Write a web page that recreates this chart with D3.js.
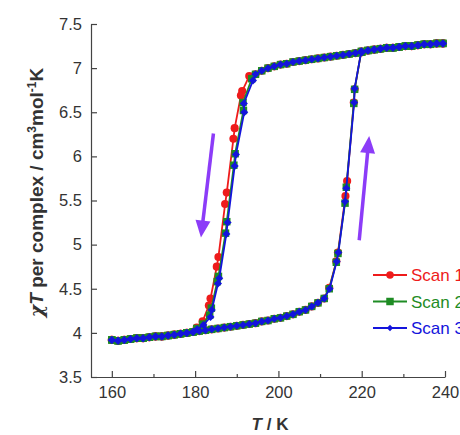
<!DOCTYPE html>
<html>
<head>
<meta charset="utf-8">
<script src="https://cdn.jsdelivr.net/npm/d3@7"></script>
<style>
  html, body { margin: 0; padding: 0; background: #fff; }
  svg { display: block; font-family: Arial, "Liberation Sans", sans-serif; }
</style>
</head>
<body>
<svg id="chart" width="460" height="435"></svg>
<script>
// Shared plateaus of the χT(T) hysteresis loop, [T / K, χT / cm3 mol-1 K]
const lowPlateau = [
  [160.0, 3.92], [161.5, 3.91], [163.0, 3.92], [164.5, 3.93], [166.0, 3.94],
  [167.5, 3.94], [169.0, 3.95], [170.5, 3.96], [172.0, 3.96], [173.5, 3.97],
  [175.0, 3.98], [176.5, 3.99], [178.0, 4.00], [179.5, 4.01], [181.0, 4.02],
  [182.5, 4.03], [184.0, 4.04], [185.5, 4.05], [187.0, 4.06], [188.5, 4.07],
  [190.0, 4.08], [191.5, 4.09], [193.0, 4.10], [194.5, 4.11], [196.0, 4.13],
  [197.5, 4.14], [199.0, 4.16], [200.5, 4.17], [202.0, 4.19], [203.5, 4.21],
  [205.0, 4.24], [206.5, 4.26], [208.0, 4.30], [209.5, 4.34], [211.0, 4.39]
];
const highPlateau = [
  [194.5, 6.93], [196.0, 6.97], [197.5, 7.00], [199.0, 7.02], [200.5, 7.04],
  [202.0, 7.05], [203.5, 7.07], [205.0, 7.08], [206.5, 7.09], [208.0, 7.10],
  [209.5, 7.11], [211.0, 7.12], [212.5, 7.13], [214.0, 7.14], [215.5, 7.15],
  [217.0, 7.16], [218.5, 7.17], [220.0, 7.18], [221.5, 7.20], [223.0, 7.21],
  [224.5, 7.22], [226.0, 7.23], [227.5, 7.23], [229.0, 7.24], [230.5, 7.25],
  [232.0, 7.25], [233.5, 7.26], [235.0, 7.27], [236.5, 7.27], [238.0, 7.28],
  [239.5, 7.28]
];

// Spin-transition points of each scan (cooling: high -> low, heating: low -> high)
const scan1Cooling = [
  [193.0, 6.91], [191.3, 6.74], [191.0, 6.69], [189.5, 6.32], [189.2, 6.20],
  [187.6, 5.59], [187.2, 5.46], [185.6, 4.86], [185.2, 4.75], [183.7, 4.39],
  [183.3, 4.31], [181.8, 4.13], [180.4, 4.06]
];
const scan2Cooling = [
  [193.6, 6.88], [191.5, 6.61], [191.6, 6.52], [189.6, 6.03], [189.3, 5.90],
  [187.6, 5.26], [187.3, 5.13], [185.6, 4.64], [185.3, 4.58], [183.9, 4.28],
  [183.5, 4.20], [181.8, 4.10], [180.4, 4.05]
];
const scan3Cooling = [
  [193.9, 6.86], [191.7, 6.60], [191.8, 6.50], [189.8, 6.02], [189.5, 5.89],
  [187.8, 5.25], [187.5, 5.12], [185.8, 4.62], [185.5, 4.56], [184.0, 4.26],
  [183.7, 4.18], [182.0, 4.09], [180.5, 4.04]
];
const scan1Heating = [
  [212.2, 4.51], [213.9, 4.81], [214.3, 4.91], [216.1, 5.55], [216.5, 5.72],
  [218.1, 6.61], [218.3, 6.76], [219.9, 7.19]
];
const scan2Heating = [
  [212.2, 4.50], [213.9, 4.80], [214.3, 4.90], [216.0, 5.47], [216.3, 5.65],
  [218.1, 6.60], [218.3, 6.76], [219.9, 7.19]
];
const scan3Heating = [
  [212.3, 4.50], [214.0, 4.81], [214.4, 4.91], [216.0, 5.49], [216.3, 5.64],
  [218.2, 6.61], [218.3, 6.77], [219.9, 7.19]
];

const scanNames = ["Scan 1", "Scan 2", "Scan 3"];
const scanColors = ["#ee1b1b", "#1e8c24", "#1414dc"];
const xTicks = [160, 180, 200, 220, 240];
const xMinorTicks = [170, 190, 210, 230];
const yTicks = [3.5, 4, 4.5, 5, 5.5, 6, 6.5, 7, 7.5];
const arrowColor = "#8c3cf8";
// Arrows marking the sweep direction, in data units [[T0, χT0], [T1, χT1]]
const coolingArrow = [[184.4, 6.26], [181.4, 5.08]];
const heatingArrow = [[219.4, 5.05], [221.8, 6.23]];

const svg = d3.select("#chart");
const x = d3.scaleLinear().domain([155, 240]).range([91, 445]);
const y = d3.scaleLinear().domain([3.5, 7.5]).range([377, 24]);

// Full measurement sequence of a scan: cool from 240 K down to 160 K, then heat back up
function scanSequence(cooling, heating) {
  const coolStart = cooling[0][0], coolEnd = cooling[cooling.length - 1][0];
  const heatStart = heating[0][0], heatEnd = heating[heating.length - 1][0];
  const highDown = highPlateau.filter(d => d[0] > coolStart).slice().reverse();
  const lowDown = lowPlateau.filter(d => d[0] < coolEnd).slice().reverse();
  const lowUp = lowPlateau.filter(d => d[0] < heatStart);
  const highUp = highPlateau.filter(d => d[0] > heatEnd);
  return highDown.concat(cooling, lowDown, lowUp, heating, highUp);
}

const scans = [
  scanSequence(scan1Cooling, scan1Heating),
  scanSequence(scan2Cooling, scan2Heating),
  scanSequence(scan3Cooling, scan3Heating)
];

// Axes with inward ticks
const axisColor = "#444";
const labelColor = "#333";
svg.append("g").attr("transform", `translate(0,${y.range()[0]})`)
  .call(d3.axisBottom(x).tickValues(xTicks).tickFormat(d3.format("d"))
    .tickSizeInner(-6).tickSizeOuter(0).tickPadding(9));
svg.append("g").attr("transform", `translate(0,${y.range()[0]})`)
  .call(d3.axisBottom(x).tickValues(xMinorTicks).tickFormat("")
    .tickSizeInner(-3).tickSizeOuter(0))
  .call(g => g.select(".domain").remove());
svg.append("g").attr("transform", `translate(${x.range()[0]},0)`)
  .call(d3.axisLeft(y).tickValues(yTicks).tickFormat(d => String(d))
    .tickSizeInner(-6).tickSizeOuter(0).tickPadding(9));

svg.selectAll(".domain").attr("stroke", axisColor).attr("stroke-width", 1.2);
svg.selectAll(".tick line").attr("stroke", axisColor).attr("stroke-width", 1.2);
svg.selectAll(".tick text").attr("fill", labelColor)
  .style("font-size", "16.5px").style("font-family", "Arial, 'Liberation Sans', sans-serif");

// Axis titles
const yTitle = svg.append("text")
  .attr("transform", `translate(43,${(y.range()[0] + y.range()[1]) / 2 - 8}) rotate(-90)`)
  .attr("text-anchor", "middle")
  .attr("fill", labelColor)
  .style("font-size", "19px").style("font-weight", "bold");
yTitle.append("tspan").style("font-style", "italic").style("font-family", "'DejaVu Serif', 'Liberation Serif', serif").text("χ");
yTitle.append("tspan").style("font-style", "italic").text("T");
yTitle.append("tspan").text(" per complex / cm");
yTitle.append("tspan").attr("dy", -7).style("font-size", "12px").text("3");
yTitle.append("tspan").attr("dy", 7).text("mol");
yTitle.append("tspan").attr("dy", -7).style("font-size", "12px").text("-1");
yTitle.append("tspan").attr("dy", 7).text("K");

const xTitle = svg.append("text")
  .attr("x", (x.range()[0] + x.range()[1]) / 2 + 2)
  .attr("y", 430)
  .attr("text-anchor", "middle")
  .attr("fill", labelColor)
  .style("font-size", "17px").style("font-weight", "bold");
xTitle.append("tspan").style("font-style", "italic").text("T");
xTitle.append("tspan").text(" / K");

// Markers for each scan
const markerPaths = [
  d3.symbol().type(d3.symbolCircle).size(52)(),
  d3.symbol().type(d3.symbolSquare).size(56)(),
  d3.symbol().type(d3.symbolSquare).size(32)()
];
const legendMarkerPaths = [
  d3.symbol().type(d3.symbolCircle).size(44)(),
  d3.symbol().type(d3.symbolSquare).size(56)(),
  d3.symbol().type(d3.symbolSquare).size(20)()
];
const markerRotate = [0, 0, 45];

const line = d3.line().x(d => x(d[0])).y(d => y(d[1]));

scans.forEach((data, i) => {
  const g = svg.append("g");
  g.append("path").datum(data)
    .attr("d", line)
    .attr("fill", "none")
    .attr("stroke", scanColors[i])
    .attr("stroke-width", 1.8)
    .attr("stroke-linejoin", "round");
  g.selectAll("path.marker").data(data).join("path")
    .attr("class", "marker")
    .attr("d", markerPaths[i])
    .attr("transform", d => `translate(${x(d[0])},${y(d[1])}) rotate(${markerRotate[i]})`)
    .attr("fill", scanColors[i]);
});

// Sweep direction arrows
function drawArrow(pts) {
  const p0 = [x(pts[0][0]), y(pts[0][1])];
  const p1 = [x(pts[1][0]), y(pts[1][1])];
  const dx = p1[0] - p0[0], dy = p1[1] - p0[1];
  const len = Math.hypot(dx, dy);
  const ux = dx / len, uy = dy / len;
  const headLen = 17, headHalf = 7.5;
  const bx = p1[0] - ux * headLen, by = p1[1] - uy * headLen;
  svg.append("line")
    .attr("x1", p0[0]).attr("y1", p0[1])
    .attr("x2", bx + ux * 2).attr("y2", by + uy * 2)
    .attr("stroke", arrowColor).attr("stroke-width", 3.5);
  svg.append("path")
    .attr("d", `M${p1[0]},${p1[1]}L${bx - uy * headHalf},${by + ux * headHalf}L${bx + uy * headHalf},${by - ux * headHalf}Z`)
    .attr("fill", arrowColor);
}
drawArrow(coolingArrow);
drawArrow(heatingArrow);

// Legend
const legend = svg.append("g").attr("transform", "translate(373,275)");
scanNames.forEach((name, i) => {
  const row = legend.append("g").attr("transform", `translate(0,${i * 26.5})`);
  row.append("line").attr("x1", 0).attr("x2", 34).attr("y1", 0).attr("y2", 0)
    .attr("stroke", scanColors[i]).attr("stroke-width", 2);
  row.append("path").attr("d", legendMarkerPaths[i])
    .attr("transform", `translate(17,0) rotate(${markerRotate[i]})`)
    .attr("fill", scanColors[i]);
  row.append("text").attr("x", 38).attr("y", 0).attr("dy", "0.36em")
    .attr("fill", scanColors[i])
    .style("font-size", "17px")
    .text(name);
});
</script>
</body>
</html>
